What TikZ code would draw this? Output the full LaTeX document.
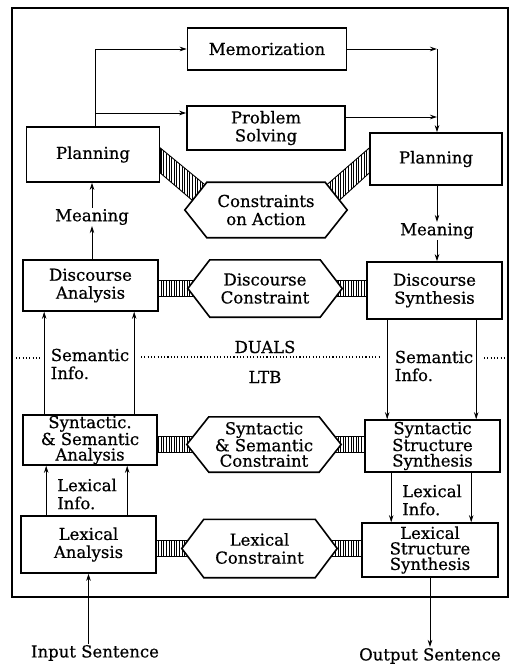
\documentclass[tikz,border=0pt]{standalone}
\usepackage{fontspec}
\setmainfont{DejaVu Serif}[FakeBold=0.6]
\usetikzlibrary{arrows.meta,calc,backgrounds,patterns.meta}
\newcommand\dfont{\fontsize{16.5}{18}\selectfont}
\newcommand\tfont{\fontsize{16.5}{15.5}\selectfont}
\begin{document}
\begin{tikzpicture}[x=1pt,y=-1pt,
  box/.style={draw,line width=1.6pt,align=center,inner sep=0pt,font=\dfont},
  hexin/.style={align=center,inner sep=0pt,font=\dfont},
  hexd/.style={draw,line width=1.6pt,fill=white},
  lbl/.style={align=left,inner sep=1pt,font=\dfont},
  conn/.style={draw,line width=0.8pt,-{Stealth[length=7pt,width=4.5pt]}},
  plainln/.style={draw,line width=0.8pt},
  bar/.style={draw,line width=0.9pt,pattern={Lines[angle=90,distance=2.6pt,line width=1pt]}},
  dots/.style={line width=1.1pt,dash pattern=on 1.1pt off 2.2pt}]
\useasboundingbox (0,0) rectangle (515,668);

% boxes
\node[box,minimum width=159,minimum height=42] (mem) at (267,49) {Memorization};
\node[box,minimum width=158,minimum height=44] (ps) at (266,128) {Problem\\Solving};
\node[box,minimum width=133,minimum height=55] (plL) at (93,154.5) {Planning};
\node[box,minimum width=132,minimum height=52] (plR) at (436,159) {Planning};
\node[hexin,minimum width=118,minimum height=55] (ca) at (266,210) {Constraints\\on Action};

\node[lbl] (meL) at (92,217) {Meaning};
\node[lbl] (meR) at (437,231) {Meaning};

\node[box,minimum width=135,minimum height=51] (daL) at (90.5,285.5) {Discourse\\Analysis};
\node[hexin,minimum width=110,minimum height=57] (dc) at (265,288.5) {Discourse\\Constraint};
\node[box,minimum width=135,minimum height=57] (dsR) at (434.5,290.5) {Discourse\\Synthesis};

\node[lbl] (siL) at (90,364) {Semantic\\Info.};
\node[lbl] (siR) at (434,366) {Semantic\\Info.};
\node[lbl] (duals) at (265,347) {DUALS};
\node[lbl] (ltb) at (265,377) {LTB};

\node[box,minimum width=134,minimum height=50,font=\tfont] (ssa) at (90,440) {Syntactic.\\\& Semantic\\Analysis};
\node[hexin,minimum width=110,minimum height=55,font=\tfont] (ssc) at (264,444.5) {Syntactic\\\& Semantic\\Constraint};
\node[box,minimum width=135,minimum height=52,font=\tfont] (sss) at (432.5,446) {Syntactic\\Structure\\Synthesis};

\node[lbl] (liL) at (87,494) {Lexical\\Info.};
\node[lbl] (liR) at (432,500) {Lexical\\Info.};

\node[box,minimum width=135,minimum height=57] (la) at (88.5,544.5) {Lexical\\Analysis};
\node[hexin,minimum width=111,minimum height=58] (lc) at (259.5,548.5) {Lexical\\Constraint};
\node[box,minimum width=136,minimum height=54,font=\tfont] (lss) at (430,550) {Lexical\\Structure\\Synthesis};

\node[lbl] (inS) at (95,653) {Input Sentence};
\node[lbl] (outS) at (430,656) {Output Sentence};

% top connectors
\coordinate (tl) at ($(plL.north)+(2,0)$);
\coordinate (tlm) at (tl |- mem.west);
\coordinate (tlp) at ($(tl |- ps.west)+(0,-15)$);
\draw[plainln] (tl) -- (tlm);
\draw[conn] (tlm) -- (mem.west);
\draw[conn] (tlp) -- (tlp -| ps.west);
\coordinate (trm) at ($(mem.east -| plR.north)+(1,0)$);
\draw[conn] (mem.east) -- (trm);
\draw[conn] (trm) -- (trm |- plR.north);
\coordinate (trp) at ($(ps.east)+(0,-11)$);
\draw[conn] (trp) -- (trp -| trm);

% meaning
\draw[conn] (meL.north) -- (meL.north |- plL.south);
\draw[conn] (daL.north -| meL) -- (meL.south);
\draw[conn] (plR.south -| meR) -- (meR.north);
\draw[conn] (meR.south) -- (meR.south |- dsR.north);

% semantic info
\coordinate (s1) at ($(ssa.north west)+(22,0)$);
\coordinate (s2) at ($(ssa.north west)+(112,0)$);
\draw[conn] (s1) -- (s1 |- daL.south);
\draw[conn] (s2) -- (s2 |- daL.south);
\coordinate (r1) at ($(dsR.south west)+(21,0)$);
\coordinate (r2) at ($(dsR.south west)+(110,0)$);
\draw[conn] (r1) -- (r1 |- sss.north);
\draw[conn] (r2) -- (r2 |- sss.north);

% lexical info
\coordinate (l1) at ($(la.north west)+(26,0)$);
\coordinate (l2) at ($(la.north west)+(107,0)$);
\draw[conn] (l1) -- (l1 |- ssa.south);
\draw[conn] (l2) -- (l2 |- ssa.south);
\coordinate (q1) at ($(sss.south west)+(27,0)$);
\coordinate (q2) at ($(sss.south west)+(107,0)$);
\draw[conn] (q1) -- (q1 |- lss.north);
\draw[conn] (q2) -- (q2 |- lss.north);

% input / output
\draw[conn] (inS.north -| la.south) -- (la.south);
\draw[conn] (lss.south) -- (lss.south |- outS.north);

% dotted
\draw[dots] (16,358) -- (42,358);
\draw[dots] (141,357) -- (381,357);
\draw[dots] (484,358) -- (507,358);

\begin{scope}[on background layer]
\draw[line width=1.2pt] (12,8) rectangle (508,597);
% diagonal bands
\draw[bar] ($(plL.east)+(0,-6.5)$) -- ($(ca.north west)+(3,6.5)$) -- ($(ca.west)+(-9,-5)$) -- ($(plL.east)+(0,18.5)$) -- cycle;
\draw[bar] ($(plR.west)+(0,-11)$) -- ($(ca.north east)+(-3,6.5)$) -- ($(ca.east)+(9,-5)$) -- ($(plR.west)+(0,14)$) -- cycle;
% horizontal bars
\draw[bar] ($(daL.east |- dc.west)+(0,-8)$) rectangle ($(dc.west)+(-15,8)$);
\draw[bar] ($(dc.east)+(15,-8)$) rectangle ($(dsR.west |- dc.east)+(0,8)$);
\draw[bar] ($(ssa.east |- ssc.west)+(0,-8)$) rectangle ($(ssc.west)+(-15,8)$);
\draw[bar] ($(ssc.east)+(15,-8)$) rectangle ($(sss.west |- ssc.east)+(0,8)$);
\draw[bar] ($(la.east |- lc.west)+(0,-8)$) rectangle ($(lc.west)+(-15,8)$);
\draw[bar] ($(lc.east)+(15,-8)$) rectangle ($(lss.west |- lc.east)+(0,8)$);
% hexagons
\foreach \h in {ca,dc,ssc,lc}{
  \path[hexd] (\h.north west) -- (\h.north east) -- ($(\h.east)+(22,0)$) -- (\h.south east) -- (\h.south west) -- ($(\h.west)+(-22,0)$) -- cycle;
}
\end{scope}
\end{tikzpicture}
\end{document}
